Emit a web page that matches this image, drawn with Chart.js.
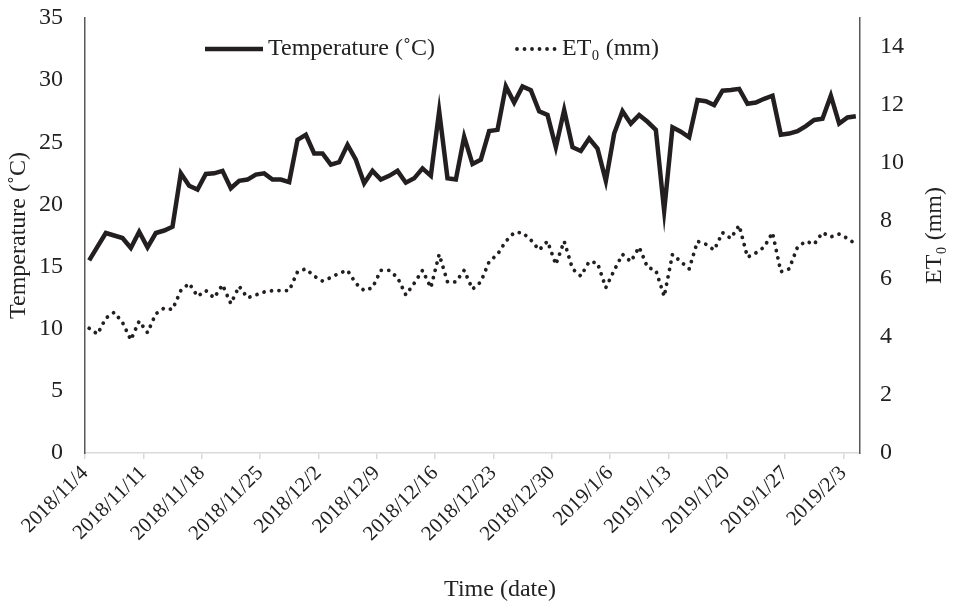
<!DOCTYPE html>
<html>
<head>
<meta charset="utf-8">
<script src="https://cdn.jsdelivr.net/npm/chart.js@4.4.1/dist/chart.umd.min.js"></script>
<style>
    html, body { margin: 0; padding: 0; background: #ffffff; }
</style>
</head>
<body>
<canvas id="temp_et0_chart" width="955" height="604"></canvas>
<script>
"use strict";

// Daily values, 2018/11/4 .. 2019/2/4 (one per day)
var temperature = [
    15.5, 16.6, 17.7, 17.5, 17.3, 16.5, 17.8, 16.55, 17.7, 17.9,
    18.2, 22.5, 21.5, 21.2, 22.45, 22.5, 22.7, 21.3, 21.9, 22.0,
    22.4, 22.5, 22.0, 22.0, 21.8, 25.2, 25.6, 24.1, 24.1, 23.2,
    23.4, 24.8, 23.6, 21.7, 22.7, 22.0, 22.3, 22.7, 21.75, 22.1,
    22.9, 22.3, 27.5, 22.1, 22.0, 25.45, 23.25, 23.6, 25.9, 26.0,
    29.5, 28.2, 29.5, 29.2, 27.5, 27.2, 24.6, 27.6, 24.6, 24.3,
    25.3, 24.5, 21.9, 25.7, 27.5, 26.5, 27.2, 26.65, 26.0, 19.5,
    26.2, 25.85, 25.4, 28.4, 28.3, 28.0, 29.15, 29.2, 29.3, 28.1,
    28.2, 28.5, 28.75, 25.6, 25.7, 25.9, 26.3, 26.8, 26.9, 28.75,
    26.5, 27.0, 27.1
];

var et0 = [
    4.3, 4.1, 4.65, 4.85, 4.5, 3.9, 4.55, 4.15, 4.8, 5.0,
    4.95, 5.6, 5.85, 5.4, 5.6, 5.35, 5.8, 5.15, 5.75, 5.35,
    5.45, 5.55, 5.6, 5.6, 5.6, 6.25, 6.35, 6.1, 5.93, 6.05,
    6.2, 6.3, 5.85, 5.6, 5.7, 6.3, 6.3, 6.05, 5.45, 5.85,
    6.3, 5.7, 6.85, 5.9, 5.9, 6.3, 5.65, 5.9, 6.6, 6.85,
    7.3, 7.6, 7.6, 7.35, 7.0, 7.3, 6.5, 7.3, 6.35, 6.1,
    6.6, 6.55, 5.7, 6.3, 6.85, 6.6, 7.1, 6.4, 6.3, 5.4,
    6.85, 6.6, 6.35, 7.3, 7.2, 7.0, 7.6, 7.4, 7.85, 6.75,
    6.9, 7.1, 7.6, 6.25, 6.35, 7.1, 7.3, 7.2, 7.6, 7.45,
    7.55, 7.4, 7.2
];

// Weekly tick labels (placed at the start of each date bin)
var tickLabels = [
    '2018/11/4', '2018/11/11', '2018/11/18', '2018/11/25', '2018/12/2',
    '2018/12/9', '2018/12/16', '2018/12/23', '2018/12/30', '2019/1/6',
    '2019/1/13', '2019/1/20', '2019/1/27', '2019/2/3'
];

var tempTicks = [0, 5, 10, 15, 20, 25, 30, 35];
var et0Ticks = [0, 2, 4, 6, 8, 10, 12, 14];

var TempEt0Chart = function () {
    var fontFamily = '"Liberation Serif", "Times New Roman", serif';
    var textColor = '#222222';

    var toPoints = function (values) {
        return values.map(function (v, i) { return { x: i, y: v }; });
    };

    var noEdgePadding = function (scale) {
        scale.paddingTop = 0;
        scale.paddingBottom = 0;
    };

    // legend inside the plot + x / right titles, like the original
    var extraText = {
        id: 'extraText',
        afterDraw: function (chart) {
            var ctx = chart.ctx;
            var sets = chart.data.datasets;
            var area = chart.chartArea;
            var items = [
                { x: 205, w: 58, ds: sets[0] },
                { x: 517, w: 40, ds: sets[1] }
            ];
            var y = 49;
            ctx.save();
            ctx.font = '24px ' + fontFamily;
            ctx.textBaseline = 'middle';
            items.forEach(function (it) {
                ctx.beginPath();
                ctx.strokeStyle = it.ds.borderColor;
                ctx.lineWidth = it.ds.borderWidth;
                ctx.lineCap = it.ds.borderCapStyle || 'butt';
                ctx.setLineDash(it.ds.borderDash || []);
                ctx.moveTo(it.x, y);
                ctx.lineTo(it.x + it.w, y);
                ctx.stroke();
                ctx.setLineDash([]);
                ctx.fillStyle = textColor;
                ctx.fillText(it.ds.label, it.x + it.w + 5, y);
            });

            ctx.textAlign = 'center';
            ctx.fillText('Time (date)', 500, 590);

            // secondary axis title reads bottom to top
            ctx.translate(935, (area.top + area.bottom) / 2);
            ctx.rotate(-Math.PI / 2);
            ctx.fillText('ET\u2080 (mm)', 0, 0);
            ctx.restore();
        }
    };

    var initChart = function () {
        var element = document.getElementById('temp_et0_chart');
        if (!element) {
            return;
        }

        var config = {
            type: 'line',
            data: {
                datasets: [{
                    label: 'Temperature (\u02DAC)',
                    data: toPoints(temperature),
                    yAxisID: 'yTemp',
                    borderColor: '#231f20',
                    borderWidth: 4.5,
                    borderCapStyle: 'butt',
                    borderJoinStyle: 'miter',
                    pointRadius: 0,
                    tension: 0
                }, {
                    label: 'ET\u2080 (mm)',
                    data: toPoints(et0),
                    yAxisID: 'yEt0',
                    borderColor: '#231f20',
                    borderWidth: 3.8,
                    borderCapStyle: 'round',
                    borderDash: [0.01, 7.5],
                    pointRadius: 0,
                    tension: 0
                }]
            },
            options: {
                responsive: false,
                animation: false,
                devicePixelRatio: 1,
                layout: {
                    padding: { top: 18, left: 0, right: 0, bottom: 0 }
                },
                scales: {
                    x: {
                        type: 'linear',
                        min: -0.5,
                        max: 92.5,
                        afterBuildTicks: function (scale) {
                            scale.ticks = tickLabels.map(function (_, i) {
                                return { value: -0.5 + 7 * i };
                            });
                        },
                        afterFit: function (scale) { scale.height = 151; },
                        border: { color: '#d9d9d9', width: 1.5 },
                        grid: {
                            drawOnChartArea: false,
                            drawTicks: true,
                            tickLength: 6,
                            color: '#d9d9d9',
                            lineWidth: 1.5
                        },
                        ticks: {
                            autoSkip: false,
                            minRotation: 45,
                            maxRotation: 45,
                            padding: 2,
                            color: textColor,
                            font: { family: fontFamily, size: 21 },
                            callback: function (value, index) {
                                return tickLabels[index];
                            }
                        }
                    },
                    yTemp: {
                        position: 'left',
                        min: 0,
                        max: 35,
                        afterBuildTicks: function (scale) {
                            scale.ticks = tempTicks.map(function (v) { return { value: v }; });
                        },
                        afterFit: function (scale) {
                            scale.width = 85;
                            noEdgePadding(scale);
                        },
                        border: { color: '#595959', width: 1.5 },
                        grid: { drawOnChartArea: false, drawTicks: false },
                        ticks: {
                            padding: 22,
                            color: textColor,
                            font: { family: fontFamily, size: 24 }
                        },
                        title: {
                            display: true,
                            text: 'Temperature (\u02DAC)',
                            color: textColor,
                            padding: { top: 4, bottom: 0 },
                            font: { family: fontFamily, size: 24 }
                        }
                    },
                    yEt0: {
                        position: 'right',
                        min: 0,
                        max: 15,
                        afterBuildTicks: function (scale) {
                            scale.ticks = et0Ticks.map(function (v) { return { value: v }; });
                        },
                        afterFit: function (scale) {
                            scale.width = 95;
                            noEdgePadding(scale);
                        },
                        border: { color: '#595959', width: 1.5 },
                        grid: { drawOnChartArea: false, drawTicks: false },
                        ticks: {
                            padding: 20,
                            color: textColor,
                            font: { family: fontFamily, size: 24 }
                        }
                    }
                },
                plugins: {
                    legend: { display: false },
                    tooltip: { enabled: false }
                }
            },
            plugins: [extraText]
        };

        element.chartInstance = new Chart(element.getContext('2d'), config);
    };

    return {
        init: function () {
            initChart();
        }
    };
}();

TempEt0Chart.init();
</script>
</body>
</html>
